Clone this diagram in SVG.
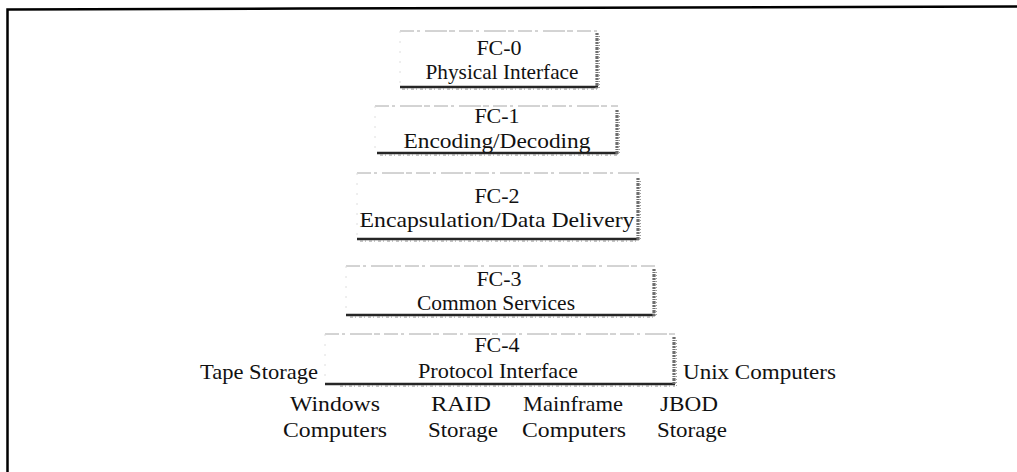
<svg xmlns="http://www.w3.org/2000/svg" width="1017" height="472" viewBox="0 0 1017 472">
  <style>
    .lbl { font-family: "Liberation Serif", "Times New Roman", serif; font-size: 22px; fill: #111; }
    .mid { text-anchor: middle; }
    .top { stroke: #a8a8a8; stroke-width: 1; stroke-dasharray: 14 3 3 5 22 2 6 4; fill: none; }
    .left { stroke: #dedede; stroke-width: 1; stroke-dasharray: 2 8; fill: none; }
    .bottom { stroke: #262626; stroke-width: 2.6; fill: none; }
    .bottom2 { stroke: #8a8a8a; stroke-width: 1.2; stroke-dasharray: 3 2 1 3; fill: none; }
    .right { stroke: #6e6e6e; stroke-width: 3.2; stroke-dasharray: 2 1 1 1 3 1; fill: none; }
    .right2 { stroke: #a0a0a0; stroke-width: 1; stroke-dasharray: 1 2; fill: none; }
    .frame { stroke: #000; stroke-width: 2.5; fill: none; }
  </style>

  <rect width="1017" height="472" fill="#fff"/>

  <!-- outer frame: left and top edges only -->
  <path class="frame" d="M7.5,472 V9.5 L300,8.5 L1017,6.5"/>

  <!-- FC-0 -->
  <g id="fc0">
    <line class="top" x1="400" y1="31" x2="598" y2="31"/>
    <line class="left" x1="400" y1="31" x2="400" y2="87"/>
    <line class="bottom" x1="400" y1="87" x2="598" y2="87"/>
    <line class="bottom2" x1="402" y1="89" x2="598" y2="89"/>
    <line class="right" x1="597" y1="33" x2="597" y2="88"/>
    <line class="right2" x1="599.5" y1="36" x2="599.5" y2="89"/>
    <text class="lbl mid" x="499" y="55">FC-0</text>
    <text class="lbl mid" x="502" y="79" textLength="153" lengthAdjust="spacingAndGlyphs">Physical Interface</text>
  </g>

  <!-- FC-1 -->
  <g id="fc1">
    <line class="top" x1="375" y1="106" x2="618" y2="106"/>
    <line class="left" x1="375" y1="106" x2="375" y2="153"/>
    <line class="bottom" x1="377" y1="153" x2="618" y2="153"/>
    <line class="bottom2" x1="380" y1="155" x2="618" y2="155"/>
    <line class="right" x1="617" y1="110" x2="617" y2="154"/>
    <line class="right2" x1="619.5" y1="113" x2="619.5" y2="155"/>
    <text class="lbl mid" x="497" y="123">FC-1</text>
    <text class="lbl mid" x="497" y="148" textLength="187" lengthAdjust="spacingAndGlyphs">Encoding/Decoding</text>
  </g>

  <!-- FC-2 -->
  <g id="fc2">
    <line class="top" x1="357" y1="173" x2="639" y2="173"/>
    <line class="left" x1="357" y1="173" x2="357" y2="239"/>
    <line class="bottom" x1="357" y1="239" x2="639" y2="239"/>
    <line class="bottom2" x1="360" y1="241" x2="639" y2="241"/>
    <line class="right" x1="638" y1="178" x2="638" y2="240"/>
    <line class="right2" x1="640.5" y1="181" x2="640.5" y2="241"/>
    <text class="lbl mid" x="497" y="203">FC-2</text>
    <text class="lbl mid" x="497" y="227" textLength="275" lengthAdjust="spacingAndGlyphs">Encapsulation/Data Delivery</text>
  </g>

  <!-- FC-3 -->
  <g id="fc3">
    <line class="top" x1="346" y1="266" x2="655" y2="266"/>
    <line class="left" x1="346" y1="266" x2="346" y2="315"/>
    <line class="bottom" x1="346" y1="315" x2="655" y2="315"/>
    <line class="bottom2" x1="350" y1="317" x2="655" y2="317"/>
    <line class="right" x1="654" y1="269" x2="654" y2="316"/>
    <line class="right2" x1="656.5" y1="272" x2="656.5" y2="317"/>
    <text class="lbl mid" x="499" y="286">FC-3</text>
    <text class="lbl mid" x="496" y="310" textLength="158" lengthAdjust="spacingAndGlyphs">Common Services</text>
  </g>

  <!-- FC-4 -->
  <g id="fc4">
    <line class="top" x1="325" y1="334" x2="675" y2="334"/>
    <line class="left" x1="325" y1="334" x2="325" y2="384"/>
    <line class="bottom" x1="325" y1="384" x2="675" y2="384"/>
    <line class="bottom2" x1="340" y1="386" x2="675" y2="386"/>
    <line class="right" x1="674" y1="337" x2="674" y2="385"/>
    <line class="right2" x1="676.5" y1="340" x2="676.5" y2="386"/>
    <text class="lbl mid" x="497" y="352">FC-4</text>
    <text class="lbl mid" x="498" y="378" textLength="160" lengthAdjust="spacingAndGlyphs">Protocol Interface</text>
  </g>

  <!-- devices attached around FC-4 -->
  <g id="tape-storage">
    <text class="lbl" x="200" y="379" textLength="118" lengthAdjust="spacingAndGlyphs">Tape Storage</text>
  </g>
  <g id="unix-computers">
    <text class="lbl" x="683" y="379" textLength="153" lengthAdjust="spacingAndGlyphs">Unix Computers</text>
  </g>

  <g id="windows-computers">
    <text class="lbl mid" x="335" y="411" textLength="90" lengthAdjust="spacingAndGlyphs">Windows</text>
    <text class="lbl mid" x="335" y="437" textLength="104" lengthAdjust="spacingAndGlyphs">Computers</text>
  </g>
  <g id="raid-storage">
    <text class="lbl" x="431" y="411" textLength="60" lengthAdjust="spacingAndGlyphs">RAID</text>
    <text class="lbl" x="428" y="437" textLength="70" lengthAdjust="spacingAndGlyphs">Storage</text>
  </g>
  <g id="mainframe-computers">
    <text class="lbl" x="523" y="411" textLength="100" lengthAdjust="spacingAndGlyphs">Mainframe</text>
    <text class="lbl" x="522" y="437" textLength="104" lengthAdjust="spacingAndGlyphs">Computers</text>
  </g>
  <g id="jbod-storage">
    <text class="lbl" x="660" y="411" textLength="58" lengthAdjust="spacingAndGlyphs">JBOD</text>
    <text class="lbl" x="657" y="437" textLength="70" lengthAdjust="spacingAndGlyphs">Storage</text>
  </g>
</svg>
